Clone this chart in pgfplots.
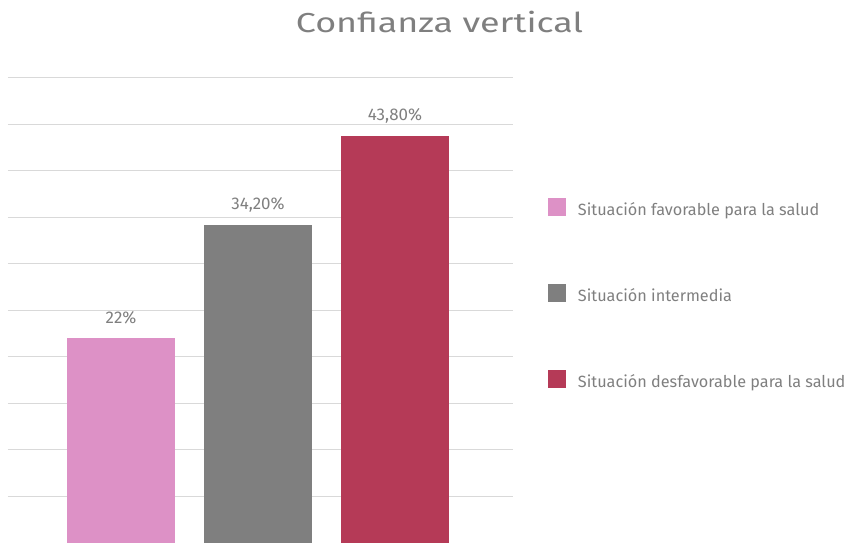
\documentclass[border=0pt]{standalone}
\usepackage{fontspec}
\setmainfont{Fira Sans}
\usepackage{pgfplots}
\pgfplotsset{compat=1.18}
\definecolor{cpink}{HTML}{DD91C6}
\definecolor{cgray}{HTML}{7F7F7F}
\definecolor{cred}{HTML}{B53A57}
\definecolor{ctext}{HTML}{7F7F7F}
\definecolor{cgrid}{HTML}{D9D9D9}
\begin{document}
\begin{tikzpicture}
\useasboundingbox (-121bp,0bp) rectangle (730bp,543bp);
\begin{axis}[
  anchor=origin, at={(0,0)},
  x=137bp, y=9.3bp,
  xmin=-0.825, xmax=2.861, ymin=0, ymax=50,
  axis line style={draw=none},
  ytick={0,5,...,50}, xtick=\empty, yticklabels={},
  major tick length=0pt,
  ymajorgrids, grid style={cgrid, line width=1bp},
  ybar, bar width=108bp, bar shift=0pt,
  clip=false,
  nodes near coords, point meta=explicit symbolic,
  nodes near coords style={anchor=base, yshift=15bp, inner sep=0pt,
    font=\fontsize{17}{19}\selectfont, text=ctext},
  legend image code/.code={\fill[#1] (0bp,-6bp) rectangle (18bp,12bp);},
  legend cell align=left,
  legend style={at={(1.0693,0.7425)}, anchor=north west, draw=none, fill=none,
    inner sep=0pt, outer sep=0pt, column sep=12bp, row sep=64bp,
    font=\fontsize{16.3}{19}\selectfont, text=ctext,
    nodes={inner sep=0pt, text height=16bp, text depth=4bp}},
]
\addplot[fill=cpink, draw=none] coordinates {(0,22) [22\%]};
\addlegendentry{Situación favorable para la salud}
\addplot[fill=cgray, draw=none] coordinates {(1,34.2) [34,20\%]};
\addlegendentry{Situación intermedia}
\addplot[fill=cred, draw=none] coordinates {(2,43.8) [43,80\%]};
\addlegendentry{Situación desfavorable para la salud}
\end{axis}
\node[anchor=base, inner sep=0pt, text=ctext, font=\fontsize{27.5}{32}\selectfont] at (318.5bp,510bp) {\scalebox{1.31}[1]{Confianza vertical}};
\end{tikzpicture}
\end{document}
